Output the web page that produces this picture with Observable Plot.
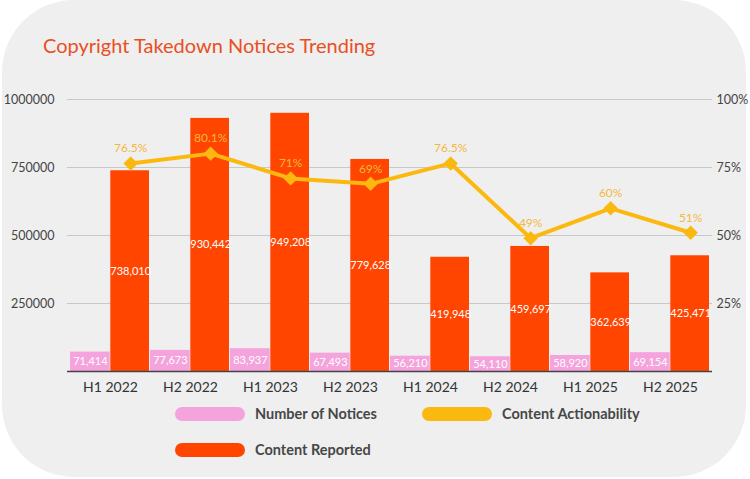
<!DOCTYPE html>
<html><head><meta charset="utf-8">
<script src="https://cdn.jsdelivr.net/npm/d3@7"></script>
<script src="https://cdn.jsdelivr.net/npm/@observablehq/plot@0.6"></script>
<style>
body{margin:0;background:#fff;font-family:Lato,sans-serif;width:750px;height:479px;position:relative;overflow:hidden;}
#card{position:absolute;left:2px;top:0;width:744px;height:477px;border-radius:72px;background:#efefef;}
#title{position:absolute;left:43px;top:35px;font-size:20px;color:#e8501f;line-height:1;}
#chart{position:absolute;left:0;top:80px;}
.sw{position:absolute;width:70px;height:14px;border-radius:7px;}
.lt{position:absolute;font-size:14.5px;font-weight:700;color:#474747;line-height:14px;}
</style></head>
<body>
<div id="card"></div>
<div id="title">Copyright Takedown Notices Trending</div>
<div id="chart"></div>
<div class="sw" style="left:175px;top:407px;background:#f5a3dc"></div>
<div class="lt" style="left:255px;top:407px">Number of Notices</div>
<div class="sw" style="left:422px;top:407px;background:#fbb80f"></div>
<div class="lt" style="left:502px;top:407px">Content Actionability</div>
<div class="sw" style="left:175px;top:443px;background:#ff4500"></div>
<div class="lt" style="left:255px;top:443px">Content Reported</div>
<script>
const categories = ["H1 2022","H2 2022","H1 2023","H2 2023","H1 2024","H2 2024","H1 2025","H2 2025"];
const notices = [71414,77673,83937,67493,56210,54110,58920,69154];
const reported = [738010,930442,949208,779628,419948,459697,362639,425471];
const actionability = [76.5,80.1,71,69,76.5,49,60,51];
const actionLabels = ["76.5%","80.1%","71%","69%","76.5%","49%","60%","51%"];
const yTicks = [250000,500000,750000,1000000];

const W=750, H=320, ML=67, MR=38, MT=19, MB=29;
const bw=(W-ML-MR)/categories.length;
const rows = categories.map((c,i)=>({cat:c, notices:notices[i], reported:reported[i], actY:actionability[i]/100*1e6, label:actionLabels[i]}));
const fmt = d3.format(",");
const chart = Plot.plot({
  width:W, height:H, marginLeft:ML, marginRight:MR, marginTop:MT, marginBottom:MB,
  style:{fontFamily:"Lato", fontSize:"12.5px", color:"#444", background:"transparent"},
  x:{domain:categories, padding:0, label:null},
  y:{domain:[0,1e6], label:null},
  marks:[
    Plot.ruleY(yTicks,{stroke:"#c8c8c8", strokeWidth:1.2}),
    Plot.barY(rows,{x:"cat", y:"notices", fill:"#f5a3dc", insetLeft:0, insetRight:bw/2}),
    Plot.barY(rows,{x:"cat", y:"reported", fill:"#ff4500", insetLeft:bw/2, insetRight:1}),
    Plot.ruleY([0],{stroke:"#444", strokeWidth:1.5}),
    Plot.text(rows,{x:"cat", y:d=>d.notices/2, text:d=>fmt(d.notices), dx:-bw/4, fill:"#fff", fontSize:11}),
    Plot.text(rows,{x:"cat", y:d=>d.reported/2, text:d=>fmt(d.reported), dx:bw/4, fill:"#fff", fontSize:11}),
    Plot.line(rows,{x:"cat", y:"actY", dx:bw/4, stroke:"#fbb80f", strokeWidth:4}),
    Plot.dot(rows,{x:"cat", y:"actY", dx:bw/4, symbol:"diamond2", r:6.5, fill:"#fbb80f", stroke:"none"}),
    Plot.text(rows,{x:"cat", y:"actY", dx:bw/4, dy:-15, text:"label", fill:"#f5b83d", fontSize:12}),
    Plot.axisY(yTicks,{anchor:"left", tickSize:0, tickPadding:13, tickFormat:d=>String(d), label:null, fill:"#444"}),
    Plot.axisY(yTicks,{anchor:"right", tickSize:0, tickPadding:4, tickFormat:d=>(d/1e4)+"%", label:null, fill:"#444"}),
    Plot.axisX({tickSize:0, tickPadding:11, fontSize:14, fill:"#333", label:null})
  ]
});
document.getElementById("chart").appendChild(chart);
</script>
</body></html>
